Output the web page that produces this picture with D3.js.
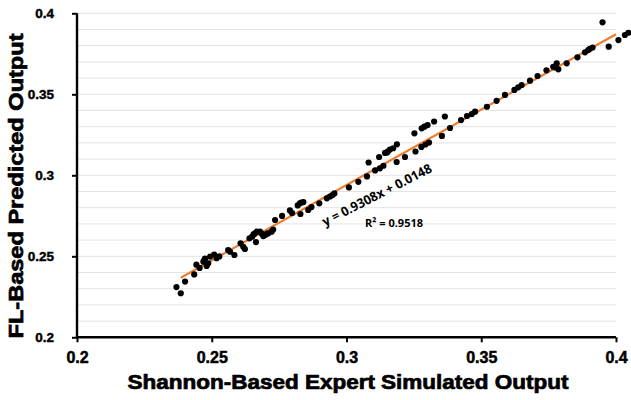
<!DOCTYPE html>
<html><head><meta charset="utf-8">
<script src="https://cdn.jsdelivr.net/npm/d3@7"></script>
<style>body{margin:0;background:#fff}svg{display:block}</style>
</head><body><svg id="c" width="631" height="400"></svg>
<script>
// Data
const xValues = [0.2369,0.2385,0.2401,0.2435,0.2443,0.2455,0.2481,0.2469,0.2475,0.2487,0.2494,0.2509,0.2518,0.2528,0.2561,0.2568,0.2584,0.2607,0.2617,0.2623,0.2640,0.2650,0.2660,0.2667,0.2664,0.2679,0.2691,0.2698,0.2710,0.2722,0.2728,0.2735,0.2761,0.2790,0.2798,0.2819,0.2827,0.2829,0.2840,0.2858,0.2870,0.2899,0.2927,0.2939,0.2948,0.2955,0.3009,0.3044,0.3076,0.3082,0.3106,0.3121,0.3124,0.3137,0.3143,0.3153,0.3161,0.3173,0.3187,0.3186,0.3217,0.3252,0.3256,0.3278,0.3293,0.3306,0.3279,0.3289,0.3301,0.3325,0.3354,0.3365,0.3384,0.3425,0.3447,0.3465,0.3477,0.3521,0.3557,0.3588,0.3623,0.3637,0.3650,0.3681,0.3709,0.3742,0.3767,0.3780,0.3786,0.3817,0.3857,0.3885,0.3897,0.3913,0.3950,0.3973,0.4009,0.4033,0.4046,0.2473,0.2655,0.2705,0.3150,0.3903,0.3775,0.2832,0.2685];
const yValues = [0.2310,0.2272,0.2344,0.2388,0.2448,0.2428,0.2440,0.2467,0.2486,0.2457,0.2498,0.2511,0.2488,0.2499,0.2539,0.2528,0.2508,0.2580,0.2559,0.2545,0.2611,0.2621,0.2642,0.2652,0.2588,0.2652,0.2625,0.2631,0.2642,0.2652,0.2665,0.2724,0.2749,0.2783,0.2767,0.2814,0.2827,0.2761,0.2835,0.2786,0.2804,0.2827,0.2858,0.2869,0.2878,0.2888,0.2925,0.2960,0.2993,0.3079,0.3030,0.3113,0.3043,0.3059,0.3138,0.3146,0.3159,0.3167,0.3191,0.3082,0.3113,0.3259,0.3147,0.3175,0.3190,0.3202,0.3290,0.3300,0.3310,0.3332,0.3243,0.3363,0.3292,0.3341,0.3366,0.3378,0.3393,0.3423,0.3460,0.3496,0.3527,0.3543,0.3557,0.3584,0.3613,0.3648,0.3670,0.3691,0.3654,0.3691,0.3728,0.3759,0.3773,0.3789,0.3944,0.3794,0.3835,0.3866,0.3880,0.2478,0.2635,0.2640,0.3140,0.3781,0.3666,0.2832,0.2640];
const xTicks = [0.2,0.25,0.3,0.35,0.4];
const xTickLabels = ["0.2","0.25","0.3","0.35","0.4"];
const yTicks = [0.2,0.25,0.3,0.35,0.4];
const yTickLabels = ["0.2","0.25","0.3","0.35","0.4"];
const gridValues = [0.21,0.22,0.23,0.24,0.25,0.26,0.27,0.28,0.29,0.30,0.31,0.32,0.33,0.34,0.35,0.36,0.37,0.38,0.39,0.40];
const trendSlope = 0.9308, trendIntercept = 0.0148;
const trendX = [0.2385, 0.4];
const xTitle = "Shannon-Based Expert Simulated Output";
const yTitle = "FL-Based Predicted Output";
const eqText = "y = 0.9308x + 0.0148";
const r2Text = "R² = 0.9518";

const svg = d3.select("#c");
const x = d3.scaleLinear().domain([0.2,0.4]).range([77,616]);
const y = d3.scaleLinear().domain([0.2,0.4]).range([337.3,13.3]);
const FONT = "'Liberation Sans', Arial, sans-serif";

// gridlines
svg.append("g").selectAll("line").data(gridValues).join("line")
  .attr("x1", x(0.2)).attr("x2", x(0.4))
  .attr("y1", d => y(d)).attr("y2", d => y(d))
  .attr("stroke", "#e3e3e3").attr("stroke-width", 1);

// trend line
svg.append("line")
  .attr("x1", x(trendX[0])).attr("y1", y(trendSlope*trendX[0]+trendIntercept))
  .attr("x2", x(trendX[1])).attr("y2", y(trendSlope*trendX[1]+trendIntercept))
  .attr("stroke", "#ED7D31").attr("stroke-width", 2.2);

// points
const pts = xValues.map((v,i) => [v, yValues[i]]);
svg.append("g").selectAll("circle").data(pts).join("circle")
  .attr("cx", d => x(d[0])).attr("cy", d => y(d[1])).attr("r", 3.1)
  .attr("fill", "#000");

// axes
const xAxis = d3.axisBottom(x).tickValues(xTicks).tickSize(5).tickFormat((d,i)=>xTickLabels[i]);
const gx = svg.append("g").attr("transform", `translate(0,${y(0.2)})`).call(xAxis);
gx.select(".domain").attr("stroke","#000").attr("stroke-width",2.4).attr("d", `M${x(0.2)},0H${x(0.4)}`);
gx.selectAll(".tick line").attr("stroke","#000").attr("stroke-width",2);
gx.selectAll(".tick text").attr("font-family",FONT).attr("font-weight","bold").attr("font-size","16px")
  .attr("fill","#000").attr("stroke","#000").attr("stroke-width",0.5).attr("y",14).attr("dy","0.71em");

const yAxis = d3.axisLeft(y).tickValues(yTicks).tickSize(5).tickFormat((d,i)=>yTickLabels[i]);
const gy = svg.append("g").attr("transform", `translate(${x(0.2)},0)`).call(yAxis);
gy.select(".domain").attr("stroke","#000").attr("stroke-width",2.4).attr("d", `M0,${y(0.2)}V${y(0.4)}`);
gy.selectAll(".tick line").attr("stroke","#000").attr("stroke-width",2);
gy.selectAll(".tick text").attr("font-family",FONT).attr("font-weight","bold").attr("font-size","13.5px")
  .attr("fill","#000").attr("stroke","#000").attr("stroke-width",0.45).attr("x",-23);

// axis titles
svg.append("text").attr("x", 348).attr("y", 389).attr("text-anchor","middle")
  .attr("font-family",FONT).attr("font-weight","bold").attr("font-size","20px")
  .attr("stroke","#000").attr("stroke-width",0.7)
  .attr("textLength",441).attr("lengthAdjust","spacingAndGlyphs").text(xTitle);
svg.append("text").attr("transform","translate(23,186) rotate(-90)").attr("text-anchor","middle")
  .attr("font-family",FONT).attr("font-weight","bold").attr("font-size","20px")
  .attr("stroke","#000").attr("stroke-width",0.7)
  .attr("textLength",305).attr("lengthAdjust","spacingAndGlyphs").text(yTitle);

// equation labels
svg.append("text").attr("transform","translate(379,199) rotate(-27)").attr("text-anchor","middle")
  .attr("font-family","'Open Sans', sans-serif").attr("font-weight","700").attr("font-size","13px")
  .attr("textLength",121).attr("lengthAdjust","spacingAndGlyphs").text(eqText);
svg.append("text").attr("x",394).attr("y",227).attr("text-anchor","middle")
  .attr("font-family","'Open Sans', sans-serif").attr("font-weight","700").attr("font-size","11px")
  .attr("textLength",58).attr("lengthAdjust","spacingAndGlyphs").text(r2Text);
</script></body></html>
